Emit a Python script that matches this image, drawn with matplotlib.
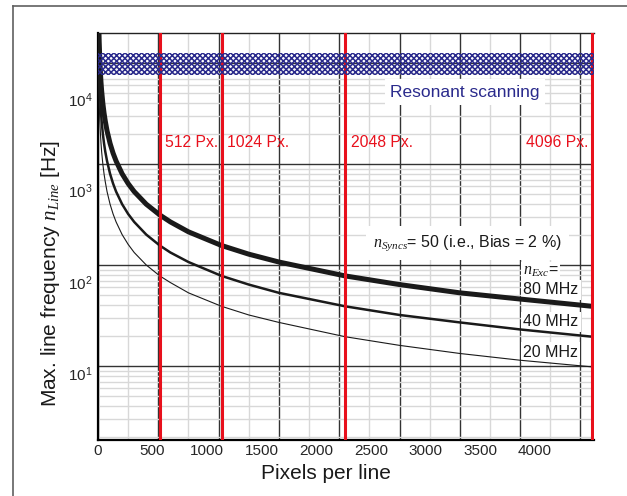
import matplotlib
matplotlib.use('Agg')
import matplotlib.pyplot as plt
import matplotlib.transforms as mtransforms
from matplotlib.ticker import MultipleLocator, LogLocator, NullLocator
from matplotlib.lines import Line2D

plt.rcParams['font.family'] = ['Liberation Sans', 'DejaVu Sans']
plt.rcParams['mathtext.fontset'] = 'custom'
plt.rcParams['mathtext.rm'] = 'Liberation Sans'
plt.rcParams['mathtext.it'] = 'Liberation Serif:italic'
plt.rcParams['hatch.linewidth'] = 1.1

# values (grid scale of the plot)
pixels = [2, 4, 6, 8, 10, 15, 20, 25, 30, 40, 50, 60, 75, 100, 125, 150, 200,
          250, 300, 400, 512, 600, 750, 1024, 1250, 1500, 2048, 2500, 3000,
          3500, 4096]
line_80 = [80000, 40000, 26700, 20000, 16000, 10700, 8000, 6400, 5330, 4000,
           3200, 2670, 2130, 1600, 1280, 1070, 800, 640, 533, 400, 313, 267,
           213, 156, 128, 107, 78, 64, 53, 46, 39]
line_40 = [40000, 20000, 13300, 10000, 8000, 5330, 4000, 3200, 2670, 2000,
           1600, 1330, 1070, 800, 640, 533, 400, 320, 267, 200, 156, 133, 107,
           78, 64, 53, 39, 32, 27, 23, 19.5]
line_20 = [20000, 10000, 6670, 5000, 4000, 2670, 2000, 1600, 1330, 1000, 800,
           670, 533, 400, 320, 267, 200, 160, 133, 100, 78, 67, 53, 39, 32, 27,
           19.5, 16, 13.3, 11.4, 9.8]
exc_labels = ['80 MHz', '40 MHz', '20 MHz']
marked_px = [512, 1024, 2048, 4096]
marked_labels = ['512 Px.', '1024 Px.', '2048 Px.', '4096 Px.']
resonant_band = (7600, 12500)
x_ticks = [0, 500, 1000, 1500, 2000, 2500, 3000, 3500, 4000]
y_ticks = [10, 100, 1000, 10000]
y_ticklabels = [r'$\mathregular{10^{1}}$', r'$\mathregular{10^{2}}$',
                r'$\mathregular{10^{3}}$', r'$\mathregular{10^{4}}$']

# the printed tick labels of the original sit on a slightly compressed scale
X_PRINT = 1.105
Y_EXP, Y_FAC = 1.106, 0.94

red = '#e8101c'
navy = '#2a2a8c'
ink = '#1a1a1a'

fig = plt.figure(figsize=(6.27, 4.96), dpi=100)
ax = fig.add_axes([98 / 627, 56 / 496, 496 / 627, 407 / 496])

ax.set_yscale('log')
ax.set_xlim(0, 4112)
ax.set_ylim(1.85, 19820)

ax.xaxis.set_major_locator(MultipleLocator(500))
ax.xaxis.set_minor_locator(MultipleLocator(250))
ax.yaxis.set_major_locator(LogLocator(base=10))
ax.yaxis.set_minor_locator(LogLocator(base=10, subs=range(2, 10)))
ax.set_axisbelow(True)
ax.grid(which='minor', color='#d8d8d8', lw=1.0)
ax.grid(which='major', color='#333333', lw=1.0)
ax.tick_params(which='both', length=0, labelbottom=False, labelleft=False)

for s in ['left', 'bottom']:
    ax.spines[s].set_linewidth(1.6)
    ax.spines[s].set_color('black')
ax.spines['top'].set_linewidth(1.0)
ax.spines['top'].set_color('#222222')
ax.spines['right'].set_visible(False)

# curves
ax.plot(pixels, line_80, color=ink, lw=3.6, zorder=3)
ax.plot(pixels, line_40, color=ink, lw=1.8, zorder=3)
ax.plot(pixels, line_20, color=ink, lw=0.8, zorder=3)

# marked image widths
trans = mtransforms.blended_transform_factory(ax.transData, ax.transAxes)
for p, lab in zip(marked_px, marked_labels):
    ax.axvline(p, color=red, lw=2.2, zorder=4)
    if p == max(marked_px):
        ax.annotate(lab, xy=(p, 0.73), xycoords=trans, xytext=(-3, 0),
                    textcoords='offset points', ha='right', va='center',
                    color=red, fontsize=11.3)
    else:
        ax.annotate(lab, xy=(p, 0.73), xycoords=trans, xytext=(4, 0),
                    textcoords='offset points', ha='left', va='center',
                    color=red, fontsize=11.3)

# resonant scanning band
ax.axhspan(resonant_band[0], resonant_band[1], facecolor='none', edgecolor=navy,
           hatch='xxxxxx', lw=0, zorder=5)
ax.text(0.74, 0.855, 'Resonant scanning', transform=ax.transAxes, ha='center',
        va='center', color=navy, fontsize=12.5, zorder=6,
        bbox=dict(boxstyle='square,pad=0.3', fc='white', ec='none'))

ax.text(0.745, 0.484, r'$n_{Syncs}$= 50 (i.e., Bias = 2 %)', transform=ax.transAxes,
        ha='center', va='center', color=ink, fontsize=11.5, zorder=2.5,
        bbox=dict(boxstyle='square,pad=0.45', fc='white', ec='none'))

ax.text(0.857, 0.415, r'$n_{Exc}$=', transform=ax.transAxes, ha='left',
        va='center', color=ink, fontsize=11.5, zorder=2.5,
        bbox=dict(boxstyle='square,pad=0.1', fc='white', ec='none'))
for lab, yf in zip(exc_labels, [0.369, 0.290, 0.216]):
    ax.text(0.857, yf, lab, transform=ax.transAxes, ha='left', va='center',
            color=ink, fontsize=11.5, zorder=2.5,
            bbox=dict(boxstyle='square,pad=0.15', fc='white', ec='none'))

# printed tick labels
secx = ax.secondary_xaxis('bottom', functions=(lambda x: x * X_PRINT,
                                               lambda x: x / X_PRINT))
secx.set_xticks(x_ticks)
secx.xaxis.set_minor_locator(NullLocator())
secx.tick_params(length=0, pad=3, labelsize=11, labelcolor='#262626')
secx.spines['bottom'].set_visible(False)

secy = ax.secondary_yaxis('left', functions=(lambda v: Y_FAC * v ** Y_EXP,
                                             lambda w: (w / Y_FAC) ** (1 / Y_EXP)))
secy.set_yticks(y_ticks, labels=y_ticklabels)
secy.yaxis.set_minor_locator(NullLocator())
secy.tick_params(length=0, pad=4, labelsize=11, labelcolor='#262626')
secy.spines['left'].set_visible(False)

ax.set_xlabel('Pixels per line', fontsize=15, color='#1a1a1a')
ax.xaxis.set_label_coords(0.46, -0.06)
ax.set_ylabel(r'Max. line frequency $n_{Line}$ [Hz]', fontsize=15, color='#1a1a1a')
ax.yaxis.set_label_coords(-0.073, 0.408)

# outer frame (left and top edges only)
fig.add_artist(Line2D([0.02, 0.02], [0.0, 0.987], color='#606060', lw=1.2))
fig.add_artist(Line2D([0.02, 1.0], [0.987, 0.987], color='#606060', lw=1.2))

fig.savefig('out.png', dpi=100)
